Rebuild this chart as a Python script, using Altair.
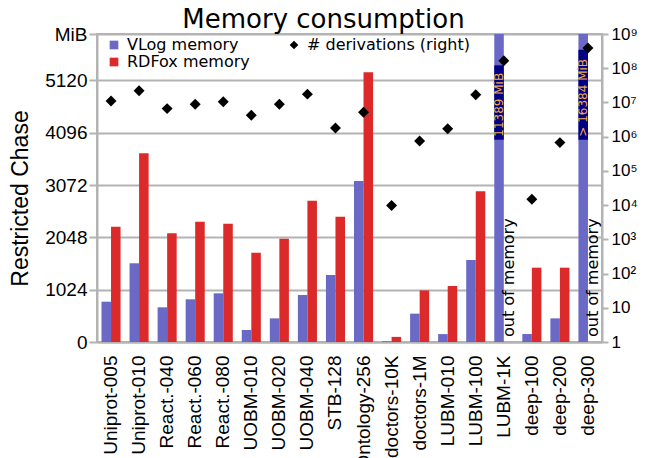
import altair as alt
import pandas as pd

categories = ["Uniprot-005", "Uniprot-010", "React.-040", "React.-060", "React.-080",
              "UOBM-010", "UOBM-020", "UOBM-040", "STB-128", "Ontology-256",
              "doctors-10K", "doctors-1M", "LUBM-010", "LUBM-100", "LUBM-1K",
              "deep-100", "deep-200", "deep-300"]
vlog_mib = [789, 1541, 679, 836, 953, 235, 463, 920, 1312, 3152,
            15, 555, 155, 1605, 11389, 157, 463, 16384]
rdfox_mib = [2258, 3694, 2128, 2356, 2317, 1749, 2023, 2767, 2454, 5281,
             100, 1010, 1096, 2950, None, 1455, 1455, None]
derivations = [1.1e7, 2.2e7, 6.6e6, 8.9e6, 1.05e7, 4.2e6, 8.9e6, 1.75e7, 1.8e6, 5.2e6,
               9.7e3, 7.5e5, 1.7e6, 1.67e7, 1.65e8, 1.48e4, 6.7e5, 3.9e8]

series_names = ["VLog memory", "RDFox memory", "# derivations (right)"]
series_colors = ["#6a6ac6", "#dc2a2a", "#000000"]
series_shapes = ["square", "square", "diamond"]

left_ticks = [0, 1024, 2048, 3072, 4096, 5120]
left_max = 6030
right_ticks = [1, 10, 1e2, 1e3, 1e4, 1e5, 1e6, 1e7, 1e8, 1e9]
right_labels = ["1", "10", "10²", "10³", "10⁴", "10⁵", "10⁶", "10⁷", "10⁸", "10⁹"]

oom_categories = ["LUBM-1K", "deep-300"]
oom_text = "out of memory"
vlog_labels = ["11389 MiB", "> 16384 MiB"]
label_base_mib = 3960

GRAY = "#b3b3b3"

bar_rows = []
for c, v, r in zip(categories, vlog_mib, rdfox_mib):
    bar_rows.append({"category": c, "series": "VLog memory", "mib": v})
    if r is not None:
        bar_rows.append({"category": c, "series": "RDFox memory", "mib": r})
bar_df = pd.DataFrame(bar_rows)

pt_df = pd.DataFrame({"category": categories, "derivations": derivations,
                      "series": "# derivations (right)"})

box_df = pd.DataFrame({"category": oom_categories, "label": vlog_labels,
                       "series": "VLog memory", "mib": label_base_mib})
oom_df = pd.DataFrame({"category": oom_categories, "label": oom_text,
                       "series": "RDFox memory", "mib": 0})

x_enc = alt.X("category:N", sort=categories,
              scale=alt.Scale(paddingInner=0.32, paddingOuter=0.16),
              axis=alt.Axis(title=None, labelAngle=270, labelFont="Liberation Sans",
                            labelFontSize=19, labelColor="black", ticks=False,
                            labelPadding=13, domainColor=GRAY, domainWidth=2))
xoff_enc = alt.XOffset("series:N", sort=["VLog memory", "RDFox memory"],
                       scale=alt.Scale(domain=["VLog memory", "RDFox memory"]))

left_scale = alt.Scale(domain=[0, left_max], nice=False, clamp=True)
left_axis = alt.Axis(values=left_ticks + [left_max],
                     labelExpr="datum.value > 6000 ? 'MiB' : format(datum.value, 'd')",
                     title="Restricted Chase", titleFont="Liberation Sans", titleFontSize=23,
                     titleFontWeight="normal", titleColor="black", titlePadding=12,
                     titleY=164,
                     labelFont="Liberation Sans", labelFontSize=19, labelColor="black",
                     labelPadding=2, grid=True, gridColor=GRAY, gridWidth=2,
                     tickColor=GRAY, tickSize=8, tickWidth=2,
                     domainColor=GRAY, domainWidth=2)
y_left = alt.Y("mib:Q", scale=left_scale, axis=left_axis)

color_scale = alt.Scale(domain=series_names, range=series_colors)
shape_scale = alt.Scale(domain=series_names, range=series_shapes)
legend = alt.Legend(title=None, orient="none", legendX=9, legendY=3, columns=2,
                    columnPadding=36, rowPadding=1, labelFont="DejaVu Sans",
                    labelFontSize=16, labelColor="black", symbolSize=75,
                    symbolStrokeWidth=0, labelOffset=5, padding=0, labelLimit=400)

bars = alt.Chart(bar_df).mark_bar().encode(
    x=x_enc, xOffset=xoff_enc, y=y_left,
    color=alt.Color("series:N", scale=color_scale, legend=legend),
)

boxes = alt.Chart(box_df).transform_calculate(
    top="datum.mib + length(datum.label) * 153 + 80"
).mark_bar(color="#000080").encode(
    x=x_enc, xOffset=xoff_enc, y=y_left, y2="top:Q",
)

box_text = alt.Chart(box_df).mark_text(
    angle=270, align="left", baseline="middle", dx=3,
    font="DejaVu Sans", fontSize=12, color="#f0a848"
).encode(x=x_enc, xOffset=xoff_enc, y=y_left, text="label:N")

oom = alt.Chart(oom_df).mark_text(
    angle=270, align="left", baseline="middle", dx=5,
    font="DejaVu Sans", fontSize=16, color="black"
).encode(x=x_enc, xOffset=xoff_enc, y=y_left, text="label:N")

left_group = alt.layer(bars, boxes, box_text, oom)

right_expr = "[" + ",".join("'" + s + "'" for s in right_labels) + "][round(log(datum.value)/LN10)]"
points = alt.Chart(pt_df).mark_point(shape="diamond", filled=True, size=120, opacity=1).encode(
    x=x_enc,
    y=alt.Y("derivations:Q",
            scale=alt.Scale(type="log", domain=[1, 1e9], nice=False),
            axis=alt.Axis(orient="right", values=right_ticks, labelExpr=right_expr,
                          title=None, grid=False, labelFont="Liberation Sans",
                          labelFontSize=17, labelColor="black", labelPadding=3,
                          tickColor=GRAY, tickSize=6, tickWidth=2,
                          domainColor=GRAY, domainWidth=2)),
    color=alt.Color("series:N", scale=color_scale, legend=legend),
    shape=alt.Shape("series:N", scale=shape_scale, legend=legend),
)

chart = alt.layer(left_group, points).resolve_scale(y="independent").properties(
    width=505, height=308,
    title=alt.TitleParams("Memory consumption", font="DejaVu Sans", fontSize=26,
                          fontWeight="normal", anchor="middle", frame="bounds",
                          baseline="alphabetic", offset=4, dy=33, color="black"),
    autosize=alt.AutoSizeParams(type="none"),
    padding={"left": 89, "top": 26, "right": 36, "bottom": 116},
).configure_view(stroke=GRAY, strokeWidth=2)

chart.save("out.html", embed_options={"renderer": "svg", "actions": False})
